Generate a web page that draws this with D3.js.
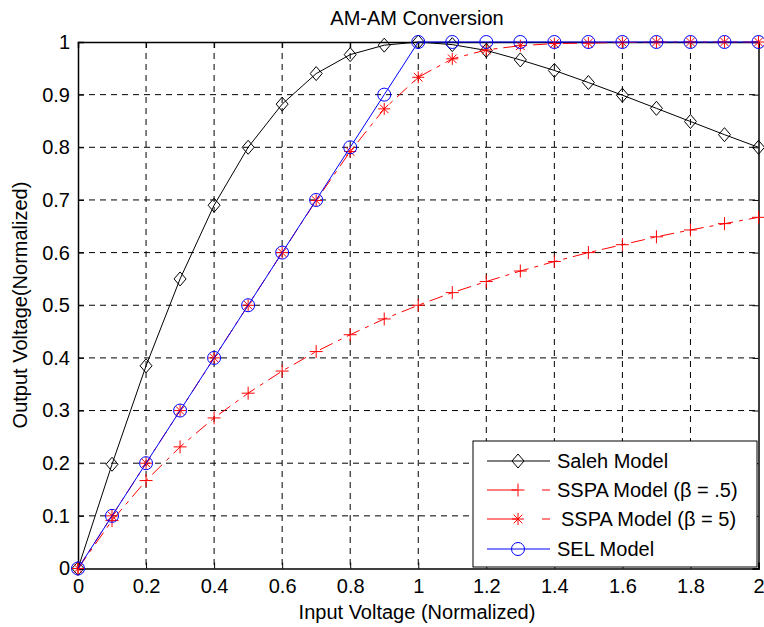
<!DOCTYPE html>
<html><head><meta charset="utf-8">
<script src="https://cdn.jsdelivr.net/npm/d3@7"></script>
<style>body{margin:0;background:#fff}svg{display:block}text{font-family:"Liberation Sans",Arial,sans-serif;fill:#000}</style>
</head><body><svg id="c" width="764" height="627"></svg>
<script>
const xValues = [0,0.1,0.2,0.3,0.4,0.5,0.6,0.7,0.8,0.9,1.0,1.1,1.2,1.3,1.4,1.5,1.6,1.7,1.8,1.9,2.0];
const saleh = [0,0.198,0.385,0.550,0.690,0.800,0.882,0.940,0.976,0.994,1.0,0.995,0.984,0.966,0.946,0.923,0.899,0.874,0.849,0.824,0.800];
const sspaHalf = [0,0.091,0.167,0.231,0.286,0.333,0.375,0.412,0.444,0.474,0.500,0.524,0.545,0.565,0.583,0.600,0.615,0.630,0.643,0.655,0.667];
const sspaFive = [0,0.100,0.200,0.300,0.400,0.500,0.600,0.699,0.792,0.873,0.933,0.968,0.985,0.993,0.997,0.998,0.999,1.0,1.0,1.0,1.0];
const sel = [0,0.1,0.2,0.3,0.4,0.5,0.6,0.7,0.8,0.9,1.0,1.0,1.0,1.0,1.0,1.0,1.0,1.0,1.0,1.0,1.0];
const xTicks = [0,0.2,0.4,0.6,0.8,1,1.2,1.4,1.6,1.8,2];
const yTicks = [0,0.1,0.2,0.3,0.4,0.5,0.6,0.7,0.8,0.9,1];
const seriesNames = ["Saleh Model","SSPA Model (\u03B2 = .5)","SSPA Model (\u03B2 = 5)","SEL Model"];

const FS = 20;
const svg = d3.select("#c");
const L=78,R=758.5,T=42,B=568.5;
const x = d3.scaleLinear().domain([0,2]).range([L,R]);
const y = d3.scaleLinear().domain([0,1]).range([B,T]);

// grid
const g = svg.append("g");
xTicks.forEach(t=>{ if(t>0&&t<2) g.append("line").attr("x1",x(t)).attr("x2",x(t)).attr("y1",T).attr("y2",B).attr("stroke","#000").attr("stroke-width",1).attr("stroke-dasharray","6,5"); });
yTicks.forEach(t=>{ if(t>0&&t<1) g.append("line").attr("y1",y(t)).attr("y2",y(t)).attr("x1",L).attr("x2",R).attr("stroke","#000").attr("stroke-width",1).attr("stroke-dasharray","6,5"); });

// axes with inward ticks
const xa = svg.append("g").attr("transform",`translate(0,${B})`).call(d3.axisBottom(x).tickValues(xTicks).tickSize(-6).tickPadding(9).tickFormat(d=>d3.format("~g")(d)));
const xa2 = svg.append("g").attr("transform",`translate(0,${T})`).call(d3.axisTop(x).tickValues(xTicks).tickSize(-6).tickFormat(""));
const ya = svg.append("g").attr("transform",`translate(${L},0)`).call(d3.axisLeft(y).tickValues(yTicks).tickSize(-6).tickPadding(8).tickFormat(d=>d3.format("~g")(d)));
const ya2 = svg.append("g").attr("transform",`translate(${R},0)`).call(d3.axisRight(y).tickValues(yTicks).tickSize(-6).tickFormat(""));
[xa,xa2,ya,ya2].forEach(a=>{a.select(".domain").attr("stroke","#000").attr("stroke-width",1.5);a.selectAll(".tick line").attr("stroke","#000");a.selectAll("text").attr("font-size",FS).attr("font-family","Liberation Sans, Arial, sans-serif").attr("fill","#000");});
xa.selectAll("text").attr("dy","0.78em");

const lineGen = (vals)=> d3.line().x((d,i)=>x(xValues[i])).y(d=>y(d))(vals);

function marker(sel, type, color){
  if(type==="diamond"){
    sel.append("path").attr("d","M0,-7 L6,0 L0,7 L-6,0Z").attr("fill","none").attr("stroke",color).attr("stroke-width",1);
  } else if(type==="plus"){
    sel.append("path").attr("d","M-6.5,0H6.5M0,-6.5V6.5").attr("stroke",color).attr("stroke-width",1);
  } else if(type==="star"){
    sel.append("path").attr("d","M-6,0H6M0,-6V6M-4.3,-4.3L4.3,4.3M-4.3,4.3L4.3,-4.3").attr("stroke",color).attr("stroke-width",1);
  } else if(type==="circle"){
    sel.append("circle").attr("r",6.5).attr("fill","none").attr("stroke",color).attr("stroke-width",1);
  }
}

const series = [
  {vals:saleh,color:"#000",dash:null,m:"diamond"},
  {vals:sspaHalf,color:"#ff0000",dash:"14,6,4,6",m:"plus"},
  {vals:sspaFive,color:"#ff0000",dash:"14,6,4,6",m:"star"},
  {vals:sel,color:"#0000ff",dash:null,m:"circle"}
];
const plot = svg.append("g");
series.forEach(s=>{
  const p = plot.append("path").attr("d",lineGen(s.vals)).attr("fill","none").attr("stroke",s.color).attr("stroke-width",1);
  if(s.dash) p.attr("stroke-dasharray",s.dash);
  s.vals.forEach((v,i)=>{ const mg=plot.append("g").attr("transform",`translate(${x(xValues[i])},${y(v)})`); marker(mg,s.m,s.color); });
});

// legend
const lg = svg.append("g");
lg.append("rect").attr("x",473).attr("y",441).attr("width",284).attr("height",126).attr("fill","#fff").attr("stroke","#000").attr("stroke-width",1);
const rowsY=[461,490,519,549];
series.forEach((s,i)=>{
  const ly=rowsY[i];
  const ln=lg.append("line").attr("x1",487).attr("x2",550).attr("y1",ly).attr("y2",ly).attr("stroke",s.color).attr("stroke-width",1);
  if(s.dash) ln.attr("stroke-dasharray","30,25,8");
  const mg=lg.append("g").attr("transform",`translate(518,${ly})`); marker(mg,s.m,s.color);
  lg.append("text").attr("x",i===2?561:557).attr("y",ly+7).attr("font-size",FS).text(seriesNames[i]);
});

// title & labels
svg.append("text").attr("x",417).attr("y",25).attr("text-anchor","middle").attr("font-size",FS).text("AM-AM Conversion");
svg.append("text").attr("x",417).attr("y",619).attr("text-anchor","middle").attr("font-size",FS).text("Input Voltage (Normalized)");
svg.append("text").attr("transform","translate(27,305) rotate(-90)").attr("text-anchor","middle").attr("font-size",FS).text("Output Voltage(Normalized)");
</script></body></html>
